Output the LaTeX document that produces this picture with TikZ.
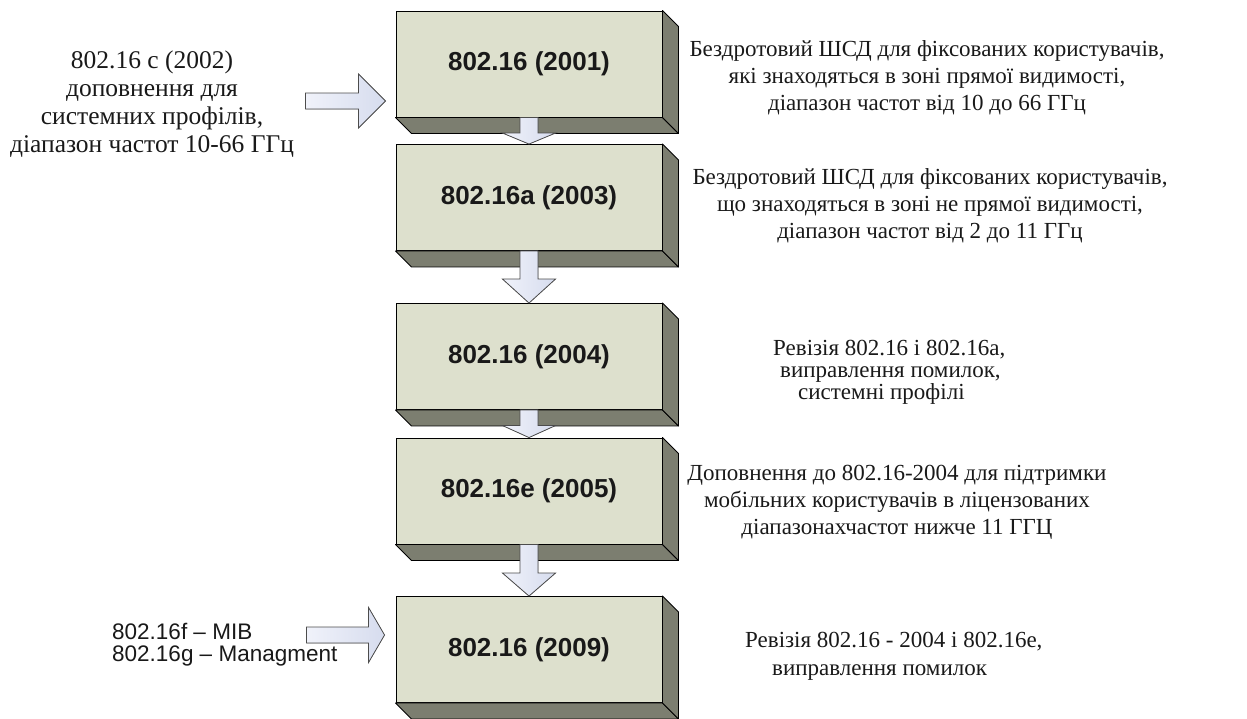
\documentclass[tikz,border=0pt]{standalone}
\usepackage{fontspec}
\setmainfont{Liberation Serif}
\newfontfamily\labelsans{Liberation Sans}
\usetikzlibrary{calc}

\definecolor{frontc}{RGB}{221,224,205}
\definecolor{sidec}{RGB}{124,126,112}
\definecolor{arrowlight}{RGB}{240,242,250}
\definecolor{arrowc}{RGB}{214,220,238}
\definecolor{inkc}{RGB}{25,25,25}

\tikzset{
  stdbox/.style={draw=black, line width=0.9pt, fill=frontc,
    minimum width=266, minimum height=106, inner sep=0,
    font=\labelsans\bfseries\fontsize{26}{30}\selectfont, text=inkc},
  sideface/.style={draw=black, line width=0.9pt, fill=sidec, line join=round},
  arrowshape/.style={draw=black!70, line width=0.8pt, line join=miter,
    left color=arrowlight, right color=arrowc},
  desc/.style={align=center, inner sep=0, text=inkc,
    font=\fontsize{23}{27}\selectfont},
  desctight/.style={align=left, inner sep=0, text=inkc, anchor=west,
    font=\fontsize{23}{22}\selectfont},
  notetext/.style={align=center, inner sep=0, text=inkc,
    font=\fontsize{25.5}{28}\selectfont},
  sanstext/.style={align=left, inner sep=0, text=inkc, anchor=west,
    font=\labelsans\fontsize{22.5}{21.5}\selectfont}
}

% bottom and right faces of a box seen slightly from above-left
\newcommand\boxdepth[1]{%
  \filldraw[sideface] (#1.south west) -- ++(16,16) -- ($(#1.south east)+(16,16)$)
    -- (#1.south east) -- cycle;
  \filldraw[sideface] (#1.north east) -- ++(16,16) -- ($(#1.south east)+(16,16)$)
    -- (#1.south east) -- cycle;}

% block arrow pointing down from one box to the next (#3 = head length)
\newcommand\flowdown[3]{%
  \filldraw[arrowshape] ($(#1.south)+(-9,0)$) -- ($(#2.north)+(-9,-#3)$)
    -- ($(#2.north)+(-26.5,-#3)$) -- (#2.north) -- ($(#2.north)+(26.5,-#3)$)
    -- ($(#2.north)+(9,-#3)$) -- ($(#1.south)+(9,0)$) -- cycle;}

% block arrow pointing right to a tip: tip, length, head length, shaft half, head half
\newcommand\flowright[5]{%
  \filldraw[arrowshape] ($(#1)+(-#2,-#4)$) -- ($(#1)+(-#3,-#4)$)
    -- ($(#1)+(-#3,-#5)$) -- (#1) -- ($(#1)+(-#3,#5)$)
    -- ($(#1)+(-#3,#4)$) -- ($(#1)+(-#2,#4)$) -- cycle;}

\begin{document}
\begin{tikzpicture}[x=1pt,y=-1pt]
\useasboundingbox (0,0) rectangle (1247,718);
\clip (0,0) rectangle (1247,718);

% standard boxes
\node[stdbox] (b1) at (529,64)    {802.16 (2001)};
\node[stdbox] (b2) at (529,197.5) {802.16a (2003)};
\node[stdbox] (b3) at (529,356.5) {802.16 (2004)};
\node[stdbox] (b4) at (529,491)   {802.16e (2005)};
\node[stdbox] (b5) at (529,649.5) {802.16 (2009)};

\boxdepth{b1}
\boxdepth{b2}
\boxdepth{b3}
\boxdepth{b4}
\boxdepth{b5}

% succession arrows
\flowdown{b1}{b2}{11}
\flowdown{b2}{b3}{24}
\flowdown{b3}{b4}{12}
\flowdown{b4}{b5}{23}

% amendments feeding in from the left
\coordinate (tipc) at ($(b1.west)+(-10,37)$);
\coordinate (tipfg) at ($(b5.west)+(-11,-14.5)$);
\flowright{tipc}{80}{27}{8}{27}
\flowright{tipfg}{78}{16}{8}{27.5}

\node[notetext] (amc) at (152,104)
  {802.16 с (2002)\\доповнення для\\системних профілів,\\діапазон частот 10-66 ГГц};
\node[sanstext] (amfg) at (112,644.5)
  {802.16f – MIB\\802.16g – Managment};

% descriptions
\node[desc] (d1) at (927,77.5)
  {Бездротовий ШСД для фіксованих користувачів,\\які знаходяться в зоні прямої видимості,\\діапазон частот від 10 до 66 ГГц};
\node[desc] (d2) at (930,205.5)
  {Бездротовий ШСД для фіксованих користувачів,\\що знаходяться в зоні не прямої видимості,\\діапазон частот від 2 до 11 ГГц};
\node[desctight] (d3) at (773,372)
  {Ревізія 802.16 і 802.16а,\\\hspace*{7pt}виправлення помилок,\\\hspace*{25pt}системні профілі};
\node[desc] (d4) at (897,502)
  {Доповнення до 802.16-2004 для підтримки\\мобільних користувачів в ліцензованих\\діапазонахчастот нижче 11 ГГЦ};
\node[desctight, font=\fontsize{23}{28}\selectfont] (d5) at (745,656.5)
  {Ревізія 802.16 - 2004 і 802.16е,\\\hspace*{27pt}виправлення помилок};
\end{tikzpicture}
\end{document}
